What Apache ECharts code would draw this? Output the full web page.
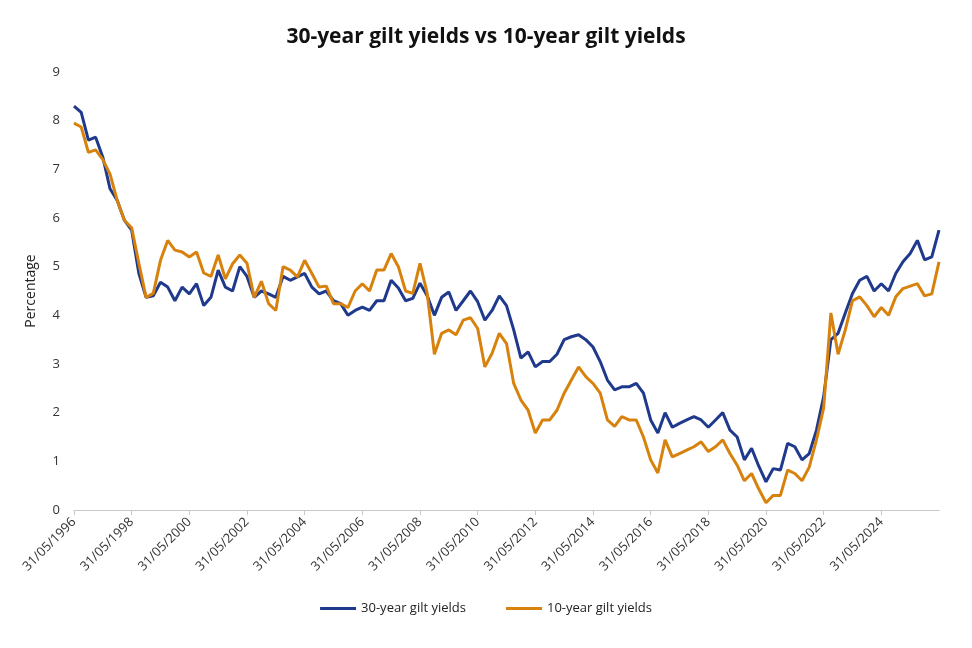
<!DOCTYPE html>
<html>
<head>
<meta charset="utf-8">
<script src="https://cdn.jsdelivr.net/npm/echarts@6/dist/echarts.min.js"></script>
<style>html,body{margin:0;padding:0;background:#fff;}#chart{width:972px;height:648px;}</style>
</head>
<body>
<div id="chart"></div>
<script>
// quarterly observations, 31/05/1996 .. 31/05/2026
let lastDay = {2: '28', 5: '31', 8: '31', 11: '30'};
let dates = [];
for (let i = 0; i <= 120; i++) {
    let m = 5 + i * 3;
    let y = 1996 + Math.floor((m - 1) / 12);
    let mm = ((m - 1) % 12) + 1;
    dates.push(lastDay[mm] + '/' + (mm < 10 ? '0' + mm : mm) + '/' + y);
}
let yield30 = [
    8.3, 8.17, 7.6, 7.66, 7.25, 6.6, 6.36, 5.95, 5.75, 4.86, 4.37, 4.4,
    4.68, 4.58, 4.3, 4.58, 4.44, 4.65, 4.2, 4.37, 4.93, 4.58, 4.5, 5.0,
    4.8, 4.37, 4.5, 4.44, 4.37, 4.8, 4.72, 4.79, 4.86, 4.58, 4.44, 4.5,
    4.3, 4.24, 4.0, 4.1, 4.17, 4.1, 4.3, 4.3, 4.72, 4.56, 4.3, 4.35,
    4.66, 4.4, 4.0, 4.37, 4.48, 4.1, 4.3, 4.5, 4.28, 3.9, 4.1, 4.4,
    4.2, 3.7, 3.12, 3.25, 2.94, 3.05, 3.05, 3.2, 3.5, 3.56, 3.6, 3.5,
    3.35, 3.05, 2.67, 2.47, 2.53, 2.53, 2.6, 2.4, 1.85, 1.58, 2.0, 1.7,
    1.78, 1.85, 1.92, 1.85, 1.7, 1.85, 2.0, 1.64, 1.5, 1.03, 1.27, 0.9,
    0.58, 0.85, 0.82, 1.37, 1.3, 1.03, 1.16, 1.64, 2.33, 3.5, 3.63, 4.05,
    4.45, 4.72, 4.8, 4.5, 4.65, 4.5, 4.86, 5.1, 5.27, 5.54, 5.14, 5.2, 5.75
];
let yield10 = [
    7.95, 7.87, 7.35, 7.4, 7.2, 6.9, 6.36, 5.95, 5.8, 5.07, 4.37, 4.45,
    5.13, 5.54, 5.34, 5.3, 5.2, 5.3, 4.87, 4.8, 5.24, 4.75, 5.06, 5.24,
    5.07, 4.37, 4.7, 4.24, 4.1, 5.0, 4.93, 4.79, 5.13, 4.86, 4.58, 4.6,
    4.24, 4.24, 4.16, 4.5, 4.65, 4.5, 4.93, 4.93, 5.27, 5.0, 4.5, 4.45,
    5.07, 4.45, 3.2, 3.63, 3.7, 3.6, 3.9, 3.95, 3.73, 2.94, 3.22, 3.63,
    3.42, 2.6, 2.26, 2.05, 1.58, 1.85, 1.85, 2.05, 2.4, 2.67, 2.94, 2.74,
    2.6, 2.4, 1.85, 1.72, 1.92, 1.85, 1.85, 1.5, 1.03, 0.76, 1.44, 1.09,
    1.16, 1.23, 1.3, 1.4, 1.2, 1.3, 1.44, 1.16, 0.92, 0.6, 0.75, 0.43,
    0.15, 0.3, 0.3, 0.82, 0.75, 0.6, 0.88, 1.44, 2.1, 4.05, 3.2, 3.7,
    4.3, 4.38, 4.2, 3.97, 4.16, 4.0, 4.38, 4.55, 4.6, 4.65, 4.4, 4.44, 5.1
];
let yTicks = [0, 9, 1];

let chart = echarts.init(document.getElementById('chart'));
let showTick = function (i) { return i % 8 === 0 && i < 120; };
chart.setOption({
    backgroundColor: '#fff',
    textStyle: {fontFamily: 'Open Sans'},
    title: {
        text: '30-year gilt yields vs 10-year gilt yields', left: 'center', top: 22,
        textStyle: {fontSize: 21, fontWeight: 'bold', color: '#111', fontFamily: 'Open Sans'}
    },
    legend: {
        bottom: 28, left: 'center', itemWidth: 36, itemHeight: 3, itemGap: 40, icon: 'rect',
        textStyle: {fontSize: 13, color: '#222'}
    },
    grid: {left: 74, right: 33, top: 72, bottom: 138},
    xAxis: {
        type: 'category', data: dates, boundaryGap: false,
        axisLine: {lineStyle: {color: '#c8c8c8'}},
        axisTick: {interval: showTick, length: 5, lineStyle: {color: '#c8c8c8'}},
        axisLabel: {interval: showTick, rotate: 45, fontSize: 13, color: '#333', margin: 10}
    },
    yAxis: {
        type: 'value', min: yTicks[0], max: yTicks[1], interval: yTicks[2],
        name: 'Percentage', nameLocation: 'middle', nameGap: 36,
        nameTextStyle: {fontSize: 14, color: '#222'},
        splitLine: {show: false}, axisLine: {show: false}, axisTick: {show: false},
        axisLabel: {fontSize: 13, color: '#333', margin: 14}
    },
    series: [
        {name: '30-year gilt yields', type: 'line', data: yield30, showSymbol: false,
            lineStyle: {width: 3, color: '#1f3a8c'}, itemStyle: {color: '#1f3a8c'}},
        {name: '10-year gilt yields', type: 'line', data: yield10, showSymbol: false,
            lineStyle: {width: 3, color: '#d8820e'}, itemStyle: {color: '#d8820e'}}
    ]
});
</script>
</body>
</html>
